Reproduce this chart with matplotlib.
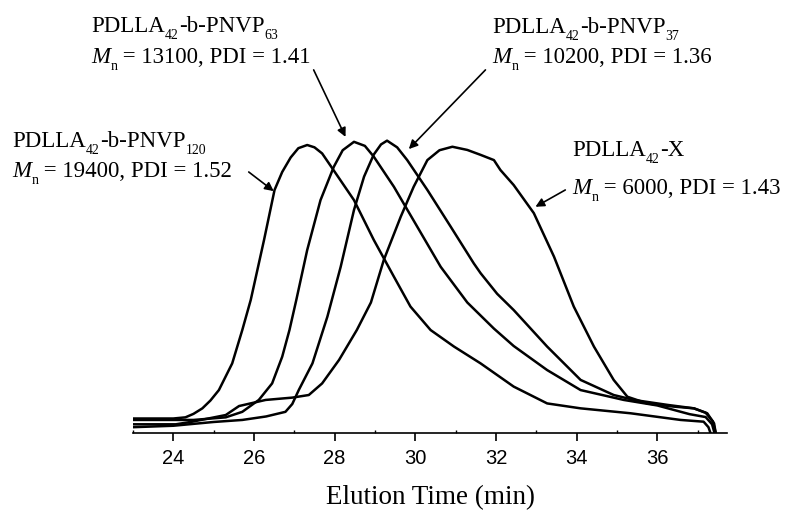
import numpy as np
import matplotlib
matplotlib.use('Agg')
import matplotlib.pyplot as plt
from matplotlib.transforms import offset_copy

plt.rcParams['font.family'] = 'Liberation Serif'

# GPC traces (elution time in min, normalised RI signal)
t_120 = [23.0, 24.0, 24.30, 24.50, 24.72, 24.92, 25.13, 25.46, 25.71, 25.92, 26.25, 26.51, 26.70,
         26.91, 27.10, 27.32, 27.50, 27.69, 27.98, 28.48, 28.97, 29.47, 29.88, 30.38, 30.96,
         31.62, 32.44, 33.27, 34.10, 35.34, 36.58, 37.15, 37.27, 37.32]
y_120 = [0.050, 0.050, 0.054, 0.066, 0.085, 0.112, 0.148, 0.240, 0.355, 0.459, 0.666, 0.838, 0.900,
         0.950, 0.982, 0.993, 0.985, 0.964, 0.905, 0.803, 0.666, 0.539, 0.436, 0.355, 0.298,
         0.240, 0.160, 0.102, 0.085, 0.068, 0.045, 0.039, 0.020, 0.0]

t_63 = [23.0, 24.5, 25.30, 25.71, 26.12, 26.45, 26.70, 26.88, 27.05, 27.32, 27.65, 27.98, 28.20,
        28.48, 28.75, 28.97, 29.47, 30.05, 30.63, 31.29, 31.62, 31.95, 32.44, 33.27, 34.10,
        35.17, 36.00, 36.80, 37.20, 37.36, 37.42]
y_63 = [0.045, 0.045, 0.054, 0.073, 0.114, 0.171, 0.263, 0.355, 0.459, 0.631, 0.803, 0.918, 0.975,
        1.004, 0.990, 0.953, 0.849, 0.711, 0.573, 0.450, 0.405, 0.360, 0.300, 0.217, 0.148,
        0.114, 0.095, 0.065, 0.055, 0.030, 0.0]

t_37 = [23.0, 24.0, 25.0, 25.71, 26.30, 26.78, 26.95, 27.11, 27.45, 27.82, 28.15, 28.48, 28.73,
        28.97, 29.15, 29.30, 29.55, 29.80, 30.30, 30.88, 31.45, 31.62, 32.03, 32.44, 33.27,
        34.10, 34.92, 35.42, 36.25, 36.91, 37.20, 37.38, 37.45]
y_37 = [0.020, 0.025, 0.038, 0.045, 0.057, 0.073, 0.100, 0.148, 0.240, 0.401, 0.573, 0.769, 0.884,
        0.960, 0.995, 1.008, 0.985, 0.941, 0.838, 0.711, 0.585, 0.551, 0.480, 0.424, 0.298,
        0.183, 0.131, 0.114, 0.097, 0.085, 0.070, 0.040, 0.0]

t_x = [23.0, 24.06, 24.47, 25.30, 25.63, 26.29, 26.95, 27.36, 27.69, 28.11, 28.55, 28.90, 29.22,
       29.64, 29.96, 30.30, 30.60, 30.92, 31.29, 31.62, 31.95, 32.11, 32.44, 32.94, 33.44,
       33.93, 34.43, 34.92, 35.26, 35.75, 36.41, 36.91, 37.24, 37.41, 37.45]
y_x = [0.030, 0.030, 0.039, 0.062, 0.093, 0.114, 0.122, 0.131, 0.171, 0.252, 0.355, 0.450, 0.597,
       0.746, 0.849, 0.941, 0.975, 0.987, 0.976, 0.959, 0.941, 0.907, 0.855, 0.758, 0.608,
       0.436, 0.298, 0.183, 0.125, 0.102, 0.091, 0.085, 0.068, 0.033, 0.0]

fig = plt.figure(figsize=(7.87, 5.12), dpi=100)
ax = fig.add_axes([133 / 787, 79 / 512, 594 / 787, 433 / 512])

for t, y in [(t_120, y_120), (t_63, y_63), (t_37, y_37), (t_x, y_x)]:
    ax.plot(t, y, color='black', lw=1.8, solid_joinstyle='round')

ax.set_xlim(23.0, 37.73)
ax.set_ylim(0, 1.493)
for s in ['left', 'right', 'top']:
    ax.spines[s].set_visible(False)
ax.spines['bottom'].set_linewidth(1.2)
ax.set_yticks([])
ax.set_xticks(np.arange(24, 37, 2))
ax.set_xticks(np.arange(23, 38, 2), minor=True)
ax.tick_params(axis='x', which='major', direction='out', length=5.5, width=1.2, pad=6,
               labelsize=14.5, labelfontfamily='Liberation Sans')
ax.tick_params(axis='x', which='minor', direction='in', length=2.5, width=1.0)
ax.set_xlabel('Elution Time (min)', fontsize=19.5, labelpad=12)

renderer = fig.canvas.get_renderer()
fs = 16.5


def label(x, y, parts):
    # parts: (text, kind) with kind 'n' normal, 'i' italic, 's' subscript
    dx = 0.0
    for txt, kind in parts:
        size = fs * 0.6 if kind == 's' else fs
        dy = -fs * 0.3 if kind == 's' else 0.0
        style = 'italic' if kind == 'i' else 'normal'
        tr = offset_copy(ax.transData, fig=fig, x=dx, y=dy, units='points')
        t = ax.text(x, y, txt, fontsize=size, fontstyle=style, va='baseline', ha='left',
                    transform=tr, clip_on=False)
        dx += t.get_window_extent(renderer).width * 72 / fig.dpi


def sample(x, y1, y2, sub, mn, pdi):
    if sub is None:
        label(x, y1, [('PDLLA', 'n'), ('42', 's'), ('-X', 'n')])
    else:
        label(x, y1, [('PDLLA', 'n'), ('42', 's'), ('-b-PNVP', 'n'), (sub, 's')])
    label(x, y2, [('M', 'i'), ('n', 's'), (' = %d, PDI = %.2f' % (mn, pdi), 'n')])


sample(21.97, 1.383, 1.276, '63', 13100, 1.41)
sample(20.01, 0.986, 0.883, '120', 19400, 1.52)
sample(31.91, 1.379, 1.276, '37', 10200, 1.36)
sample(33.89, 0.955, 0.824, None, 6000, 1.43)

arrow = dict(arrowstyle='-|>', color='black', lw=1.2, mutation_scale=13, shrinkA=0, shrinkB=0)
ax.annotate('', xy=(28.27, 1.021), xytext=(27.48, 1.252), arrowprops=arrow, annotation_clip=False)
ax.annotate('', xy=(26.49, 0.834), xytext=(25.87, 0.900), arrowprops=arrow, annotation_clip=False)
ax.annotate('', xy=(29.84, 0.979), xytext=(31.74, 1.252), arrowprops=arrow, annotation_clip=False)
ax.annotate('', xy=(32.98, 0.780), xytext=(33.72, 0.838), arrowprops=arrow, annotation_clip=False)

plt.savefig('out.png', dpi=100)
